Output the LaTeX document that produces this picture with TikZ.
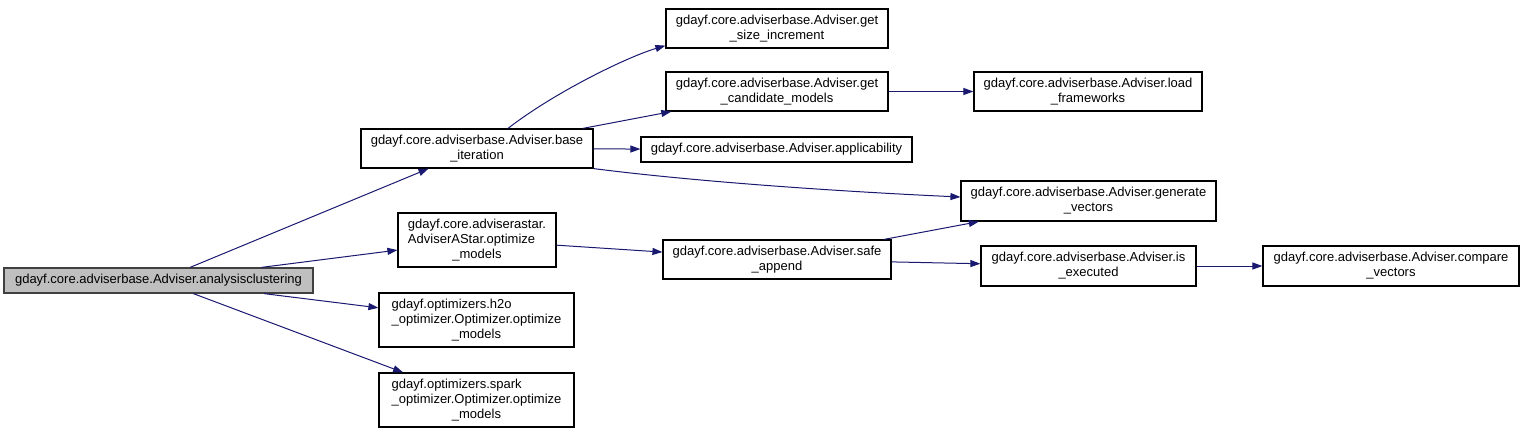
\documentclass[tikz,border=0pt]{standalone}
\usepackage{fontspec}
\setmainfont{Liberation Sans}
\usetikzlibrary{arrows.meta,calc}

\definecolor{edgeblue}{HTML}{191970}
\definecolor{rootgray}{HTML}{BFBFBF}

\newcommand{\leftlines}[1]{\begin{tabular}[b]{@{}l@{}}#1\end{tabular}}

\tikzset{
  fn/.style={draw=black, line width=1.2pt, fill=white, inner sep=0pt, align=center,
    font=\fontsize{13}{15}\selectfont},
  root/.style={fn, fill=rootgray, draw=black!75},
  call/.style={draw=edgeblue, line width=1pt, -{Triangle[length=10pt,width=7pt]}}
}

\begin{document}
\begin{tikzpicture}[x=1pt,y=-1pt]
\useasboundingbox (0,0) rectangle (1524,434);

% functions
\node[root, minimum width=309, minimum height=25] (clus) at (158.5,280.5) {gdayf.core.adviserbase.Adviser.analysisclustering};
\node[fn, minimum width=232, minimum height=39] (base) at (477,148.5) {gdayf.core.adviserbase.Adviser.base\\\_iteration};
\node[fn, minimum width=158, minimum height=54] (astar) at (477,240) {\leftlines{gdayf.core.adviserastar.\\AdviserAStar.optimize}\\\_models};
\node[fn, minimum width=195, minimum height=54] (htwo) at (476.5,320) {\leftlines{gdayf.optimizers.h2o\\\_optimizer.Optimizer.optimize}\\\_models};
\node[fn, minimum width=195, minimum height=54] (spark) at (476.5,400) {\leftlines{gdayf.optimizers.spark\\\_optimizer.Optimizer.optimize}\\\_models};
\node[fn, minimum width=222, minimum height=39] (getsize) at (777,28.5) {gdayf.core.adviserbase.Adviser.get\\\_size\_increment};
\node[fn, minimum width=222, minimum height=39] (getcand) at (777,91.5) {gdayf.core.adviserbase.Adviser.get\\\_candidate\_models};
\node[fn, minimum width=271, minimum height=25] (applic) at (776.5,149.5) {gdayf.core.adviserbase.Adviser.applicability};
\node[fn, minimum width=228, minimum height=39] (safe) at (777,259.5) {gdayf.core.adviserbase.Adviser.safe\\\_append};
\node[fn, minimum width=228, minimum height=39] (loadfw) at (1088,91.5) {gdayf.core.adviserbase.Adviser.load\\\_frameworks};
\node[fn, minimum width=255, minimum height=40] (genvec) at (1088.5,201) {gdayf.core.adviserbase.Adviser.generate\\\_vectors};
\node[fn, minimum width=215, minimum height=40] (isexec) at (1088.5,266) {gdayf.core.adviserbase.Adviser.is\\\_executed};
\node[fn, minimum width=256, minimum height=40] (compvec) at (1391,266) {gdayf.core.adviserbase.Adviser.compare\\\_vectors};

% calls
\draw[call] (clus) -- (base);
\draw[call] (clus) -- (astar);
\draw[call] (clus) -- (htwo);
\draw[call] (clus) -- (spark);
\draw[call] ([xshift=31pt]base.north) .. controls +(45,-35) and +(-40,12) .. ([yshift=3pt]getsize.south west);
\draw[call] (base) -- (getcand);
\draw[call] (base) -- (applic);
\draw[call] (base.south east) .. controls +(110,14) and +(-110,-5) .. ([yshift=4pt]genvec.west);
\draw[call] (getcand) -- (loadfw);
\draw[call] (astar) -- (safe);
\draw[call] (safe) -- (genvec);
\draw[call] (safe) -- (isexec);
\draw[call] (isexec) -- (compvec);
\end{tikzpicture}
\end{document}
